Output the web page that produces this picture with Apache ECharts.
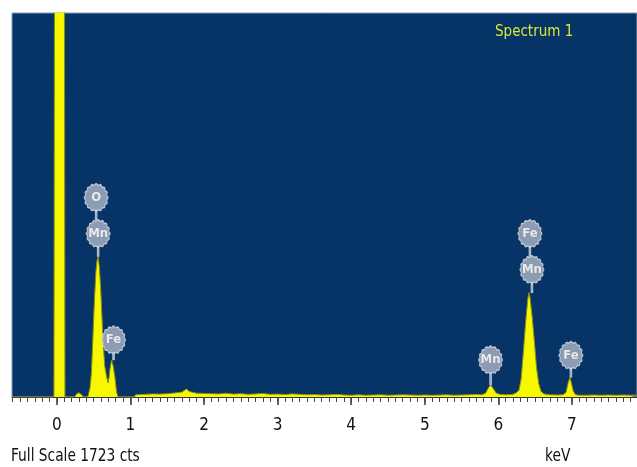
<!DOCTYPE html>
<html><head><meta charset="utf-8">
<script src="https://cdn.jsdelivr.net/npm/echarts@6/dist/echarts.min.js"></script>
<style>html,body{margin:0;padding:0;background:#fff}#c{width:637px;height:467px}</style>
</head><body><div id="c"></div>
<script>
// ---- data ----
const energyKeV = [-0.61,-0.04,-0.03,0.10,0.11,0.24,0.27,0.30,0.33,0.36,
  0.42,0.45,0.47,0.49,0.51,0.53,0.545,0.561,0.575,0.594,0.61,0.629,0.65,0.676,0.697,0.71,0.72,0.743,0.765,0.788,0.811,0.83,
  1.05,1.07,1.2,1.3,1.4,1.5,1.6,1.7,1.76,1.8,1.9,2.0,2.1,2.2,2.3,2.4,2.5,2.6,2.7,2.8,2.9,3.0,3.1,3.2,3.3,3.4,3.5,3.6,3.7,3.8,3.9,
  4.0,4.1,4.2,4.3,4.4,4.5,4.6,4.7,4.8,4.9,5.0,5.1,5.2,5.3,5.4,5.5,5.6,5.7,5.78,5.83,5.86,5.895,5.93,5.97,6.02,6.1,6.2,
  6.25,6.28,6.31,6.34,6.37,6.40,6.416,6.43,6.46,6.49,6.52,6.55,6.58,6.62,6.7,6.8,6.88,6.92,6.95,6.973,6.995,7.02,7.05,7.1,
  7.2,7.3,7.4,7.5,7.6,7.7,7.8,7.89];
const countsCts = [0,0,2500,2500,0,0,15,19,12,0,
  0,40,110,271,430,560,610,630,590,495,380,242,140,91,63,90,121,166,140,91,24,0,
  0,10,12,14,13,15,18,22,36,25,17,16,15,14,17,13,15,12,14,16,12,13,11,14,12,10,11,9,10,12,9,
  8,10,8,9,10,8,9,10,9,8,9,8,9,10,8,9,10,12,10,18,38,54,38,18,12,10,12,
  20,30,80,200,330,440,468,450,360,250,130,60,25,14,10,9,10,20,65,88,60,25,10,8,
  8,9,8,9,8,9,8,8];
const xTickLabels = [0,1,2,3,4,5,6,7];
const badgeText = ['O','Mn','Fe','Fe','Mn','Mn','Fe'];
const badgeKeV = [0.561,0.561,0.743,6.416,6.416,5.895,6.973];
const badgeCts = [630,630,166,468,468,54,88];
const fullScale = 1723;
const titleText = 'Spectrum 1';
const footText = 'Full Scale 1723 cts';
const unitText = 'keV';

// ---- styling (not data) ----
const badgeLift = [59,23,20,59,23,25,22];
const badgeStem = [8,8.5,5.5,8,8.5,10.5,7.5];
const badgeDx = [-2,0,2,1,3,0,1];
const RX = 12, RY = 14;
function gearPath(rx, ry, s){
  const n = 128, bumps = 16; let d = '';
  for (let i=0;i<n;i++){
    const th = 2*Math.PI*i/n;
    const f = 0.95 + 0.05*Math.cos(bumps*th);
    const x = rx + rx*f*Math.sin(th), y = ry - ry*f*Math.cos(th);
    d += (i===0?'M':'L') + x.toFixed(2) + ',' + y.toFixed(2) + ' ';
  }
  d += 'Z ';
  d += 'M'+(rx-0.8)+','+(2*ry-1)+' L'+(rx+0.8)+','+(2*ry-1)+' L'+(rx+0.8)+','+(2*ry+s)+' L'+(rx-0.8)+','+(2*ry+s)+' Z';
  return 'path://' + d;
}
const NARROW = '"DejaVu Sans Condensed","Liberation Sans Narrow","Arial Narrow","Liberation Sans",sans-serif';
const minorTicks = [];
for (let i=-6;i<=78;i++) minorTicks.push(i/10);

const spectrum = energyKeV.map((e,i)=>[e, countsCts[i]]);
const badges = badgeText.map((t,i)=>({
  value:[badgeKeV[i], badgeCts[i]],
  symbol: gearPath(RX, RY, badgeStem[i]),
  symbolSize:[2*RX, 2*RY+badgeStem[i]],
  symbolOffset:[badgeDx[i], -badgeLift[i] + badgeStem[i]/2],
  label:{show:true, formatter:t, position:'inside', offset:[0, -badgeStem[i]/2]}
}));

const chart = echarts.init(document.getElementById('c'), null, {renderer:'canvas'});
chart.setOption({
  animation:false,
  backgroundColor:'#ffffff',
  title:{text:titleText, left:490, top:20,
    textStyle:{color:'#d9e83a', fontSize:15, fontWeight:'normal', fontFamily:NARROW}},
  grid:{left:12, right:0, top:13, bottom:70, show:true, backgroundColor:'#073467', borderColor:'#8a9ab5', borderWidth:1},
  xAxis:[{
    type:'value', min:-0.61, max:7.885, position:'bottom',
    axisLine:{show:true, onZero:false, lineStyle:{color:'#333', width:1}},
    axisTick:{show:true, customValues:xTickLabels, length:8, lineStyle:{color:'#333', width:1.5}},
    axisLabel:{show:true, customValues:xTickLabels, margin:20, color:'#111', fontSize:17, fontFamily:NARROW},
    splitLine:{show:false}
  },{
    type:'value', min:-0.61, max:7.885, position:'bottom', gridIndex:0,
    axisLine:{show:false},
    axisTick:{show:true, customValues:minorTicks, length:5, lineStyle:{color:'#444', width:1}},
    axisLabel:{show:false}, splitLine:{show:false}
  }],
  yAxis:{type:'value', min:0, max:fullScale, show:false, splitLine:{show:false}},
  graphic:[
    {type:'text', x:11, y:448, scaleX:0.9, style:{text:footText, fill:'#111', font:'17px '+NARROW}},
    {type:'text', x:545, y:448, scaleX:0.9, style:{text:unitText, fill:'#111', font:'17px '+NARROW}}
  ],
  series:[{
    type:'line', data:spectrum, symbol:'none', clip:true, xAxisIndex:0,
    lineStyle:{color:'#8c8c14', width:1},
    areaStyle:{color:'#f7f700', opacity:1}
  },{
    type:'scatter', data:badges, xAxisIndex:0, clip:false, z:5,
    itemStyle:{color:'#aeb6c6', borderColor:'#d6dce6', borderWidth:1.2},
    label:{color:'#ffffff', fontSize:13, fontWeight:'bold', fontFamily:NARROW, textBorderColor:'#8890a0', textBorderWidth:0.8}
  }]
});
</script></body></html>
